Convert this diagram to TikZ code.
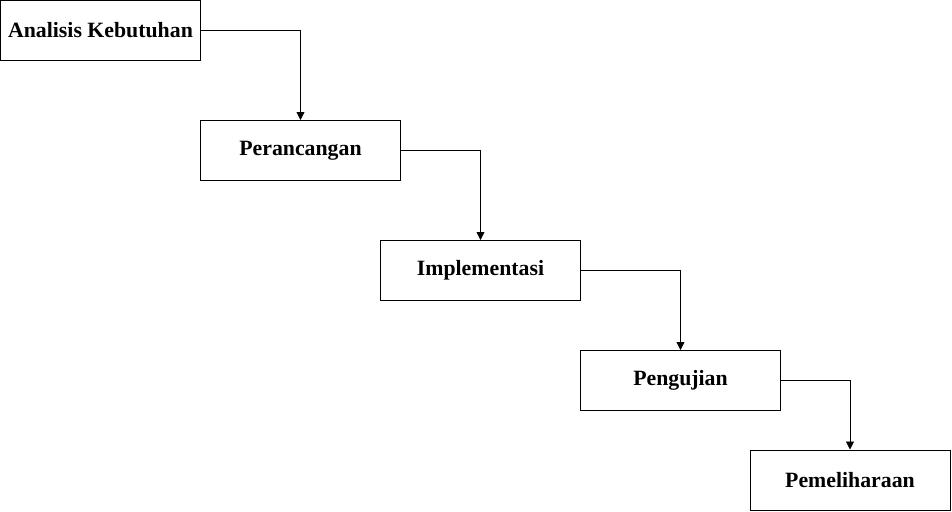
\documentclass[tikz,border=0pt]{standalone}
\usepackage{fontspec}
\setmainfont{Liberation Serif}
\usetikzlibrary{arrows.meta,positioning}
\begin{document}
\begin{tikzpicture}[x=1pt,y=1pt,
  tahap/.style={draw, line width=1pt, minimum width=200pt, minimum height=60pt, inner sep=0pt, font=\fontsize{21.8}{26}\selectfont\bfseries},
  alur/.style={-{Triangle[length=8pt,width=8pt]}, line width=0.8pt}]
\useasboundingbox (0,0) rectangle (952,-511);
\node [tahap] (analisis) at (100.5,-30.5) {Analisis Kebutuhan};
\node [tahap] (rancang) at (300.5,-150.5) {Perancangan};
\node [tahap] (implementasi) at (480.5,-270.5) {Implementasi};
\node [tahap] (uji) at (680.5,-380.5) {Pengujian};
\node [tahap] (pelihara) at (850,-480) {Pemeliharaan};

\draw [alur] (analisis.east) -| (rancang.north);
\draw [alur] (rancang.east) -| (implementasi.north);
\draw [alur] (implementasi.east) -| (uji.north);
\draw [alur] (uji.east) -| (pelihara.north);
\end{tikzpicture}
\end{document}
